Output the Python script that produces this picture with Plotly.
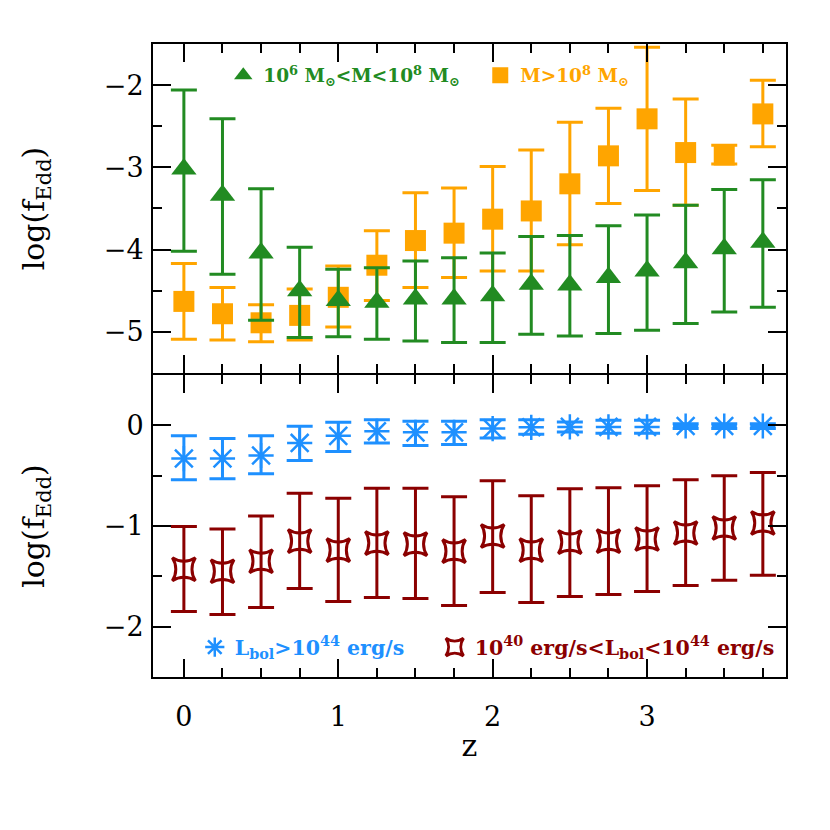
import numpy as np
import plotly.graph_objects as go
from plotly.subplots import make_subplots

# ── data ──────────────────────────────────────────────────────────────────────
z = [0.0, 0.25, 0.5, 0.75, 1.0, 1.25, 1.5, 1.75, 2.0, 2.25, 2.5, 2.75, 3.0, 3.25, 3.5, 3.75]

# top panel: 10^6 < M < 10^8  (green triangles)
mid_val = [-3.02, -3.34, -4.04, -4.50, -4.62, -4.64, -4.60, -4.60, -4.56, -4.42, -4.43, -4.34, -4.26, -4.16, -3.99, -3.91]
mid_hi = [-2.06, -2.41, -3.26, -3.97, -4.24, -4.22, -4.14, -4.10, -4.04, -3.84, -3.83, -3.71, -3.58, -3.46, -3.27, -3.15]
mid_lo = [-4.02, -4.30, -4.86, -5.07, -5.06, -5.09, -5.11, -5.13, -5.13, -5.03, -5.05, -5.02, -4.98, -4.90, -4.76, -4.70]

# top panel: M > 10^8  (orange squares)
hi_val = [-4.63, -4.78, -4.89, -4.80, -4.58, -4.19, -3.89, -3.80, -3.63, -3.53, -3.20, -2.86, -2.41, -2.82, -2.85, -2.35]
hi_hi = [-4.17, -4.46, -4.67, -4.48, -4.20, -3.77, -3.31, -3.25, -2.99, -2.79, -2.45, -2.28, -1.54, -2.17, -2.73, -1.94]
hi_lo = [-5.09, -5.10, -5.12, -5.10, -4.94, -4.62, -4.46, -4.34, -4.26, -4.26, -3.94, -3.44, -3.28, -3.46, -2.96, -2.75]

# bottom panel: Lbol > 10^44  (blue asterisks)
bright_val = [-0.33, -0.33, -0.30, -0.175, -0.105, -0.06, -0.07, -0.07, -0.033, -0.02, -0.016, -0.016, -0.016, -0.007, -0.007, -0.007]
bright_hi = [-0.105, -0.13, -0.105, -0.01, 0.03, 0.056, 0.04, 0.04, 0.056, 0.056, 0.033, 0.05, 0.05, 0.016, 0.016, 0.016]
bright_lo = [-0.54, -0.53, -0.48, -0.35, -0.26, -0.175, -0.20, -0.19, -0.125, -0.09, -0.066, -0.08, -0.08, -0.033, -0.033, -0.033]

# bottom panel: 10^40 < Lbol < 10^44  (dark red stars)
faint_val = [-1.43, -1.45, -1.35, -1.15, -1.24, -1.17, -1.18, -1.25, -1.10, -1.24, -1.16, -1.15, -1.13, -1.07, -1.02, -0.97]
faint_hi = [-1.005, -1.03, -0.90, -0.675, -0.725, -0.626, -0.626, -0.71, -0.55, -0.70, -0.63, -0.62, -0.60, -0.54, -0.50, -0.47]
faint_lo = [-1.85, -1.88, -1.81, -1.62, -1.75, -1.71, -1.72, -1.79, -1.66, -1.76, -1.70, -1.68, -1.65, -1.59, -1.54, -1.49]

GREEN = "#228B22"
ORANGE = "#FFA500"
BLUE = "#1E90FF"
RED = "#8B0000"
FONT = "DejaVu Serif"


def errs(val, hi, lo, color):
    v = np.array(val)
    return dict(type="data", symmetric=False,
                array=np.array(hi) - v, arrayminus=v - np.array(lo),
                color=color, thickness=3, width=13)


def name(txt, color):
    return f'<span style="color:{color}"><b>{txt}</b></span>'


# 2px gap so the two panel frames overlap on one line
fig = make_subplots(rows=2, cols=1, shared_xaxes=True, vertical_spacing=2 / 633,
                    row_heights=[330 / 633, 303 / 633])

fig.add_trace(go.Scatter(
    x=z, y=hi_val, mode="markers",
    marker=dict(symbol="square", size=21, color=ORANGE),
    error_y=errs(hi_val, hi_hi, hi_lo, ORANGE),
    name=name("M&gt;10<sup>8</sup> M<sub>⊙</sub>", ORANGE),
    legend="legend2", showlegend=True,
), row=1, col=1)
fig.add_trace(go.Scatter(
    x=z, y=mid_val, mode="markers",
    marker=dict(symbol="triangle-up", size=22, color=GREEN),
    error_y=errs(mid_val, mid_hi, mid_lo, GREEN),
    name=name("10<sup>6</sup> M<sub>⊙</sub>&lt;M&lt;10<sup>8</sup> M<sub>⊙</sub>", GREEN),
    legend="legend", showlegend=True,
), row=1, col=1)

fig.add_trace(go.Scatter(
    x=z, y=bright_val, mode="markers",
    marker=dict(symbol="asterisk-open", size=21, color=BLUE, line=dict(color=BLUE, width=2.5)),
    error_y=errs(bright_val, bright_hi, bright_lo, BLUE),
    name=name("L<sub>bol</sub>&gt;10<sup>44</sup> erg/s", BLUE),
    legend="legend3", showlegend=True,
), row=2, col=1)
fig.add_trace(go.Scatter(
    x=z, y=faint_val, mode="markers",
    marker=dict(symbol="star-square-open", size=21, color=RED, line=dict(color=RED, width=3)),
    error_y=errs(faint_val, faint_hi, faint_lo, RED),
    name=name("10<sup>40</sup> erg/s&lt;L<sub>bol</sub>&lt;10<sup>44</sup> erg/s", RED),
    legend="legend4", showlegend=True,
), row=2, col=1)

axis_style = dict(
    showline=True, linecolor="black", linewidth=2, mirror="ticks",
    ticks="inside", ticklen=18, tickwidth=1.5, tickcolor="black",
    showgrid=False, zeroline=False, automargin=False,
    tickfont=dict(family=FONT, size=27, color="black"),
)

fig.update_xaxes(range=[-0.2, 3.9], tick0=0, dtick=1, ticklabelstandoff=15,
                 minor=dict(dtick=0.25, ticks="inside", ticklen=9, tickwidth=1.5, tickcolor="black"),
                 **axis_style)
fig.update_xaxes(showticklabels=False, row=1, col=1)
fig.update_xaxes(title=dict(text="z", font=dict(family=FONT, size=30, color="black"), standoff=4),
                 row=2, col=1)

fig.update_yaxes(tick0=0, dtick=1, ticklabelstandoff=2,
                 minor=dict(dtick=0.5, ticks="inside", ticklen=9, tickwidth=1.5, tickcolor="black"),
                 **axis_style)
ytitle = dict(text="log(f<sub>Edd</sub>)", font=dict(family=FONT, size=30, color="black"), standoff=50)
fig.update_yaxes(range=[-5.5, -1.5], title=ytitle, row=1, col=1)
fig.update_yaxes(range=[-2.5, 0.5], title=ytitle, row=2, col=1)

legend_style = dict(
    orientation="h", xref="paper", yref="paper", yanchor="middle",
    bgcolor="rgba(0,0,0,0)", itemsizing="trace",
)
top_font = dict(family=FONT, size=18.5)
bot_font = dict(family=FONT, size=20.5)

# page body adds an 8px margin, so the plot margins are shifted to compensate
fig.update_layout(
    width=830, height=830, showlegend=True,
    paper_bgcolor="white", plot_bgcolor="white",
    margin=dict(l=145, r=52, t=36, b=161),
    legend=dict(x=0.111, y=0.95, font=top_font, **legend_style),
    legend2=dict(x=0.517, y=0.95, font=top_font, **legend_style),
    legend3=dict(x=0.066, y=0.047, font=bot_font, **legend_style),
    legend4=dict(x=0.445, y=0.047, font=bot_font, **legend_style),
)

fig.write_html("out.html")
